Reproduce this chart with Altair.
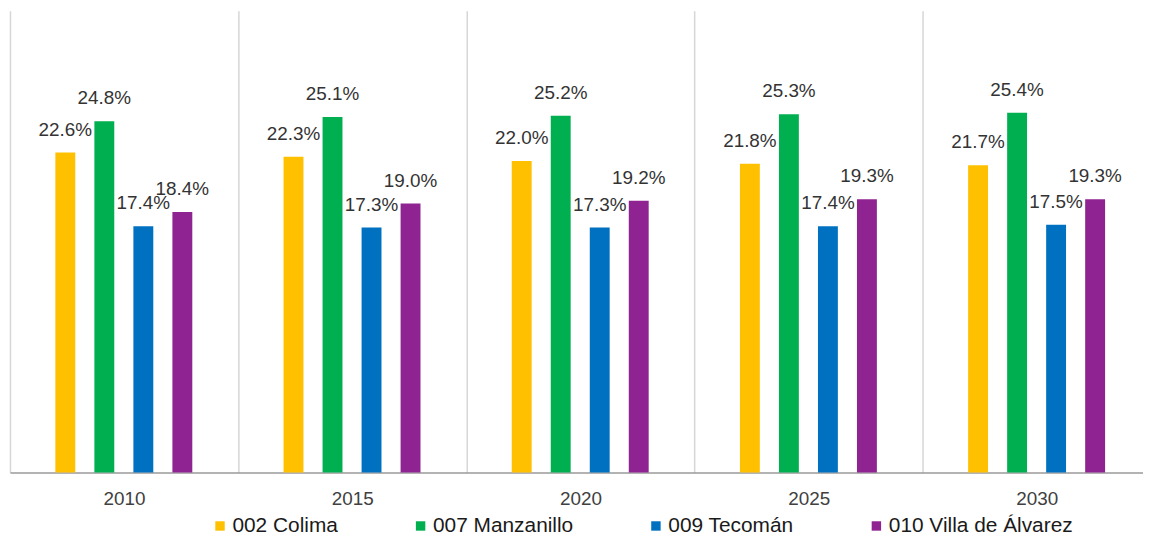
import altair as alt
import pandas as pd

years = ["2010", "2015", "2020", "2025", "2030"]
series = ["002 Colima", "007 Manzanillo", "009 Tecomán", "010 Villa de Álvarez"]
colors = ["#FFC000", "#00B050", "#0070C0", "#8F2391"]
colima = [22.6, 22.3, 22.0, 21.8, 21.7]
manzanillo = [24.8, 25.1, 25.2, 25.3, 25.4]
tecoman = [17.4, 17.3, 17.3, 17.4, 17.5]
villa = [18.4, 19.0, 19.2, 19.3, 19.3]

rows = []
for s, vals in zip(series, [colima, manzanillo, tecoman, villa]):
    for y, v in zip(years, vals):
        rows.append({"year": y, "serie": s, "value": v})
df = pd.DataFrame(rows)

FONT = "Liberation Sans"

x = alt.X(
    "year:N",
    sort=years,
    title=None,
    scale=alt.Scale(range=[0, 1149], paddingInner=0, paddingOuter=0),
    axis=alt.Axis(
        tickBand="extent",
        grid=True,
        gridColor="#d6d6d6",
        gridWidth=1.5,
        ticks=False,
        domainColor="#9a9a9a",
        domainWidth=1.5,
        labelAngle=0,
        labelFont=FONT,
        labelFontSize=19,
        labelColor="#404040",
        labelPadding=17,
    ),
)
xoff = alt.XOffset(
    "serie:N",
    sort=series,
    scale=alt.Scale(range=[45.7, 183.6], paddingInner=0.49, paddingOuter=0),
)
y = alt.Y("value:Q", scale=alt.Scale(domain=[0, 32.6]), axis=None)

base = alt.Chart(df).encode(x=x, xOffset=xoff, y=y)

bars = base.mark_bar().encode(
    color=alt.Color(
        "serie:N",
        sort=series,
        scale=alt.Scale(domain=series, range=colors),
        legend=alt.Legend(
            title=None,
            orient="none",
            legendX=201,
            legendY=508,
            direction="horizontal",
            columns=4,
            symbolType="square",
            symbolSize=90,
            symbolStrokeWidth=0,
            labelFont=FONT,
            labelFontSize=21,
            labelColor="#1a1a1a",
            labelOffset=2,
            labelLimit=400,
            columnPadding=72,
            padding=0,
        ),
    )
)

labels = base.transform_calculate(
    label="format(datum.value, '.1f') + '%'"
).mark_text(
    baseline="alphabetic",
    align="center",
    dy=-17,
    font=FONT,
    fontSize=19,
    color="#333333",
).encode(text="label:N")

chart = (
    alt.layer(bars, labels)
    .properties(
        width=1141,
        height=465,
        autosize=alt.AutoSizeParams(type="none"),
        padding={"left": 2, "top": 1, "right": 0, "bottom": 66},
    )
    .configure_view(stroke=None)
)

chart.save("out.html", embed_options={"renderer": "svg", "actions": False})
